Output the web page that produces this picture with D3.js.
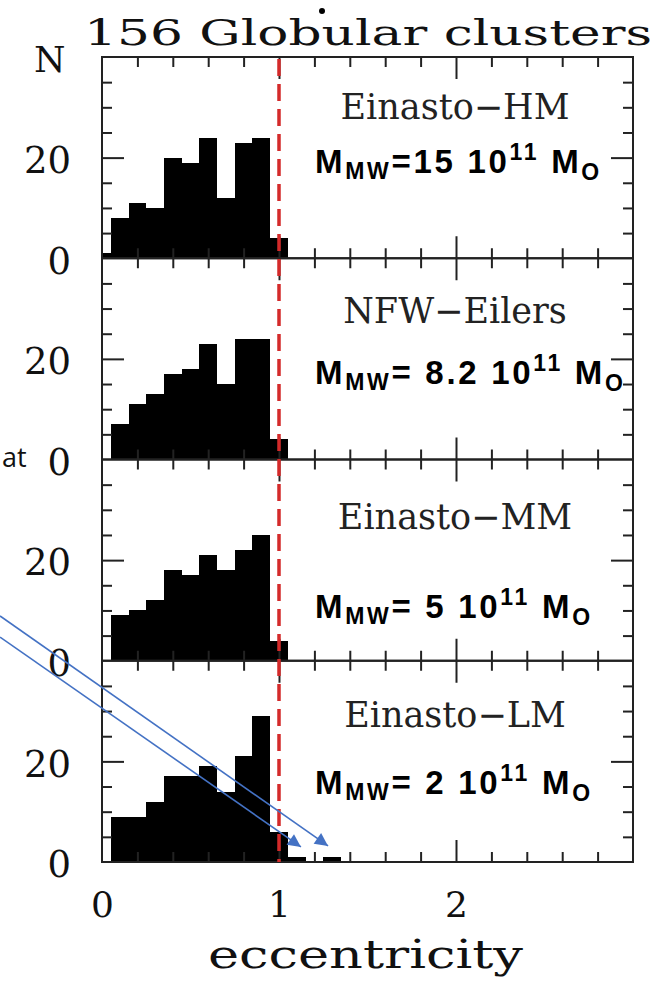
<!DOCTYPE html>
<html>
<head>
<meta charset="utf-8">
<script src="https://cdn.jsdelivr.net/npm/d3@7"></script>
<style>
  body { margin: 0; background: #fff; }
  svg text { white-space: pre; }
</style>
</head>
<body>
<div class="container"></div>
<script>
// bin centres in eccentricity (bin width 0.1)
var _bins = [0, 0.1, 0.2, 0.3, 0.4, 0.5, 0.6, 0.7, 0.8, 0.9, 1.0, 1.1, 1.2, 1.3];

// number of clusters per bin, one array per potential
var _einastoHM = [1, 8, 11, 10, 20, 19, 24, 12, 23, 24, 4, 0, 0, 0];
var _nfwEilers = [0, 7, 11, 13, 17, 18, 23, 15, 24, 24, 4, 0, 0, 0];
var _einastoMM = [0, 9, 10, 12, 18, 17, 21, 18, 22, 25, 4, 0, 0, 0];
var _einastoLM = [0, 9, 9, 12, 17, 17, 19, 14, 21, 29, 6, 1, 0, 1];

var _models = ["Einasto−HM", "NFW−Eilers", "Einasto−MM", "Einasto−LM"];
var _masses = ["=15", "= 8.2", "= 5", "= 2"];

var _yTicks = [0, 20];
var _xTicks = [0, 1, 2];
var _title = "156 Globular clusters";

const WIDTH = 659;
const HEIGHT = 981;
const LEFT = 102;
const RIGHT = 633;
const TOP = 57;
const BOTTOM = 862;
const PANEL_H = (BOTTOM - TOP) / 4;

// text offsets from panel top
const MODEL_Y = [62, 65, 69, 66];
const MASS_Y = [116, 126, 158, 133];

const SERIF = "'DejaVu Serif', serif";
const SANS = "'Liberation Sans', Arial, sans-serif";

var translate = function(x, y){
  return "translate(" + x + "," + y + ")";
};

var _xScale = d3.scaleLinear()
  .domain([0, 3])
  .range([LEFT, RIGHT]);

var panelScale = function(i){
  var top = TOP + i * PANEL_H;
  return d3.scaleLinear()
    .domain([0, 40])
    .range([top + PANEL_H, top]);
};

var tickAxis = function(g, axis, pos, values, size){
  g.append('g')
    .attr('transform', pos)
    .call(axis.tickValues(values).tickSize(-size).tickFormat(""))
    .call(function(s){ s.select('.domain').remove(); })
    .selectAll('line')
    .attr('stroke', '#222')
    .attr('stroke-width', 2);
};

var generateChart = function(){

  var svg = d3.select('.container').append('svg')
    .attr('width', WIDTH)
    .attr('height', HEIGHT)
    .style('display', 'block');

  svg.append('rect')
    .attr('width', WIDTH).attr('height', HEIGHT)
    .attr('fill', '#fff');

  var series = [_einastoHM, _nfwEilers, _einastoMM, _einastoLM];
  var xMinor = d3.range(1, 15).map(function(k){ return k * 0.2; })
    .filter(function(v){ return Math.abs(v - Math.round(v)) > 0.01; });
  var xMajor = [1, 2];
  var yMinor = [5, 10, 15, 25, 30, 35];

  series.forEach(function(values, i){
    var y = panelScale(i);
    var top = y(40), bottom = y(0);
    var g = svg.append('g').classed('panel', true);

    // histogram bars
    g.selectAll('rect.bar')
      .data(_bins.map(function(b, k){ return {x: b, n: values[k]}; })
        .filter(function(d){ return d.n > 0; }))
      .enter().append('rect')
      .classed('bar', true)
      .attr('x', function(d){ return _xScale(Math.max(0, d.x - 0.05)); })
      .attr('width', function(d){ return _xScale(d.x + 0.05) - _xScale(Math.max(0, d.x - 0.05)); })
      .attr('y', function(d){ return y(d.n); })
      .attr('height', function(d){ return bottom - y(d.n); })
      .attr('fill', '#000')
      .attr('shape-rendering', 'crispEdges');

    // inward ticks on all four sides
    tickAxis(g, d3.axisLeft(y), translate(LEFT, 0), yMinor, 10);
    tickAxis(g, d3.axisLeft(y), translate(LEFT, 0), [20], 22);
    tickAxis(g, d3.axisRight(y), translate(RIGHT, 0), yMinor, 10);
    tickAxis(g, d3.axisRight(y), translate(RIGHT, 0), [20], 22);
    tickAxis(g, d3.axisTop(_xScale), translate(0, top), xMinor, 10);
    tickAxis(g, d3.axisTop(_xScale), translate(0, top), xMajor, 22);
    tickAxis(g, d3.axisBottom(_xScale), translate(0, bottom), xMinor, 10);
    tickAxis(g, d3.axisBottom(_xScale), translate(0, bottom), xMajor, 22);

    g.append('rect')
      .attr('x', LEFT).attr('y', top)
      .attr('width', RIGHT - LEFT).attr('height', bottom - top)
      .attr('fill', 'none')
      .attr('stroke', '#222')
      .attr('stroke-width', 2);

    // y labels
    var yl = g.append('g')
      .attr('transform', translate(LEFT, 3))
      .call(d3.axisLeft(y).tickValues(_yTicks).tickSize(0).tickPadding(LEFT - 71).tickFormat(d3.format('d')));
    yl.select('.domain').remove();
    yl.selectAll('text')
      .style('font-family', SERIF)
      .style('font-size', '37px')
      .attr('fill', '#111');

    // model name
    g.append('text')
      .attr('x', 455)
      .attr('y', top + MODEL_Y[i])
      .attr('text-anchor', 'middle')
      .style('font-family', SERIF)
      .style('font-size', '35px')
      .attr('fill', '#222')
      .text(_models[i]);

    // MW mass
    var t = g.append('text')
      .attr('x', 315)
      .attr('y', top + MASS_Y[i])
      .style('font-family', SANS)
      .style('font-weight', 'bold')
      .style('font-size', '33px')
      .style('letter-spacing', '2.7px')
      .attr('fill', '#000');
    t.append('tspan').text('M');
    t.append('tspan').attr('dy', 6).style('font-size', '23px').text('MW');
    t.append('tspan').attr('dy', -6).text(_masses[i] + ' 10');
    t.append('tspan').attr('dy', -13).style('font-size', '23px').text('11');
    t.append('tspan').attr('dy', 13).text(' M');
    t.append('tspan').attr('dy', 7).style('font-size', '23px').text('O');
  });

  // e = 1 marker
  svg.append('line')
    .attr('x1', _xScale(1)).attr('x2', _xScale(1))
    .attr('y1', TOP + 2).attr('y2', BOTTOM)
    .attr('stroke', '#d42a2a')
    .attr('stroke-width', 3.5)
    .attr('stroke-dasharray', '17,8');

  // x labels
  var xl = svg.append('g')
    .attr('transform', translate(0, BOTTOM))
    .call(d3.axisBottom(_xScale).tickValues(_xTicks).tickSize(0).tickPadding(29).tickFormat(d3.format('d')));
  xl.select('.domain').remove();
  xl.selectAll('text')
    .style('font-family', SERIF)
    .style('font-size', '36px')
    .attr('fill', '#111');

  svg.append('text')
    .attr('x', 208).attr('y', 968)
    .attr('textLength', 315)
    .attr('lengthAdjust', 'spacingAndGlyphs')
    .style('font-family', SERIF)
    .style('font-size', '40px')
    .attr('fill', '#111')
    .text('eccentricity');

  svg.append('text')
    .attr('x', 34).attr('y', 72)
    .style('font-family', SERIF)
    .style('font-size', '36px')
    .attr('fill', '#111')
    .text('N');

  svg.append('text')
    .attr('x', 84).attr('y', 45)
    .attr('textLength', 568)
    .attr('lengthAdjust', 'spacingAndGlyphs')
    .style('font-family', SERIF)
    .style('font-size', '36px')
    .attr('fill', '#111')
    .text(_title);

  svg.append('circle')
    .attr('cx', 322).attr('cy', 11).attr('r', 3)
    .attr('fill', '#000');

  // stray slide text on the left
  svg.append('text')
    .attr('x', 2).attr('y', 467)
    .style('font-family', "'Open Sans', sans-serif")
    .style('font-size', '27px')
    .attr('fill', '#111')
    .text('at');

  // blue arrows into the last panel (data units of that panel)
  var yLow = panelScale(3);
  var arrows = [
    {from: [-0.576, 44.7], to: [1.124, 3.0]},
    {from: [-0.576, 48.9], to: [1.277, 3.2]}
  ];
  svg.append('defs').append('marker')
    .attr('id', 'head')
    .attr('viewBox', '0 0 10 10')
    .attr('refX', 10).attr('refY', 5)
    .attr('markerUnits', 'userSpaceOnUse')
    .attr('markerWidth', 17).attr('markerHeight', 13)
    .attr('orient', 'auto')
    .append('path')
    .attr('d', 'M0,0 L10,5 L0,10 z')
    .attr('fill', '#4472c4');
  svg.selectAll('line.arrow').data(arrows)
    .enter().append('line')
    .classed('arrow', true)
    .attr('x1', function(d){ return _xScale(d.from[0]); })
    .attr('y1', function(d){ return yLow(d.from[1]); })
    .attr('x2', function(d){ return _xScale(d.to[0]); })
    .attr('y2', function(d){ return yLow(d.to[1]); })
    .attr('stroke', '#4472c4')
    .attr('stroke-width', 1.6)
    .attr('marker-end', 'url(#head)');
};

window.onload = generateChart;
</script>
</body>
</html>
